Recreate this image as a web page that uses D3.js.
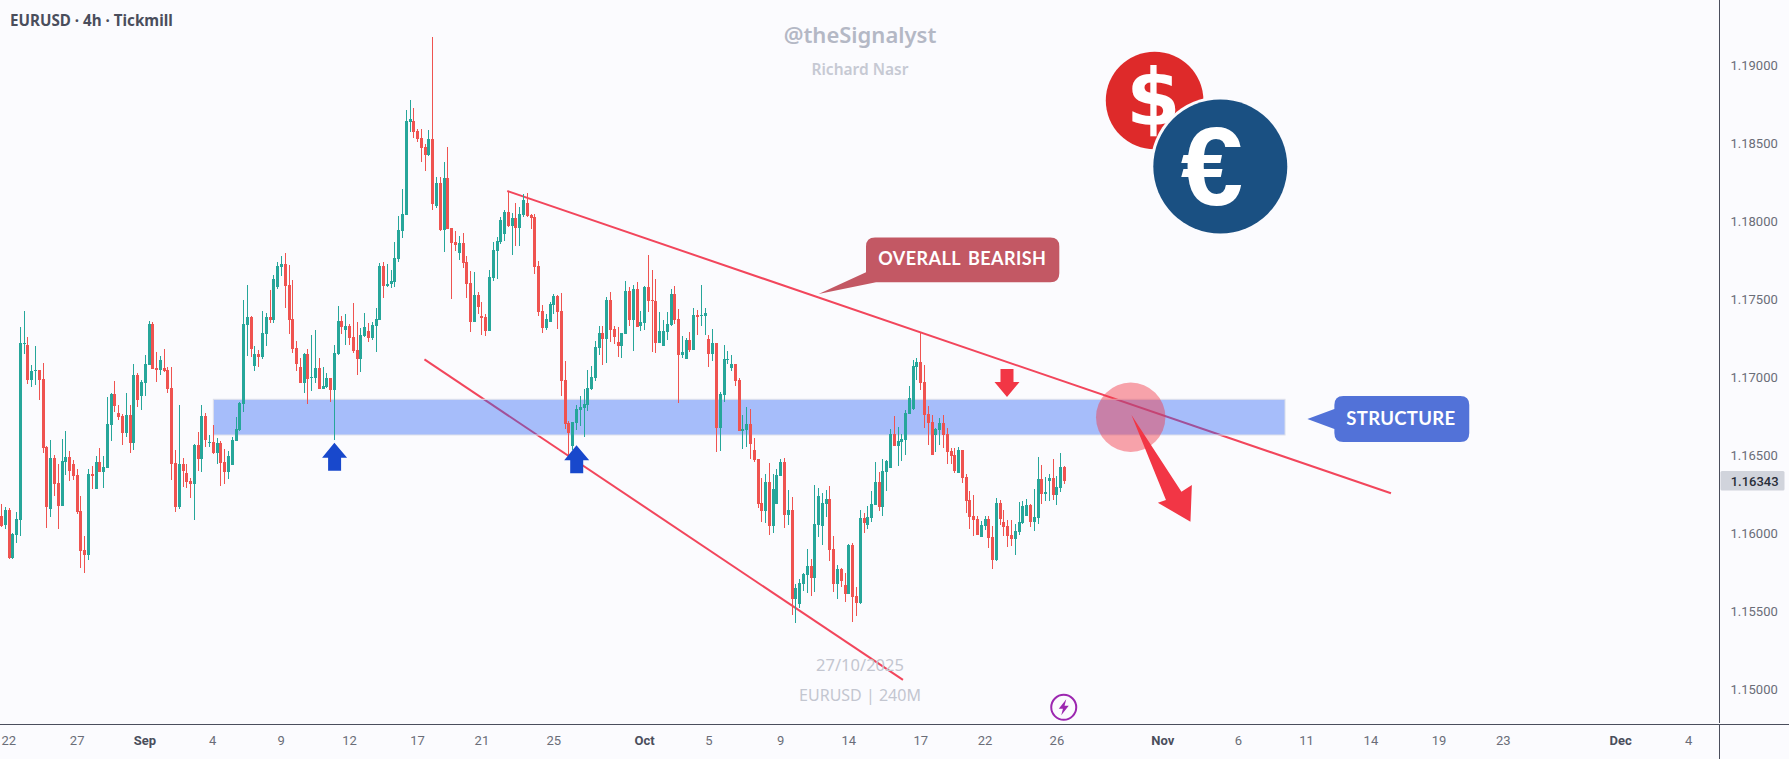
<!DOCTYPE html>
<html><head><meta charset="utf-8"><title>EURUSD 4h</title>
<script src="https://cdn.jsdelivr.net/npm/d3@7/dist/d3.min.js"></script>
<style>html,body{margin:0;padding:0;background:#fbfbfe;overflow:hidden}svg{display:block}</style></head><body>
<div id="chart"></div>
<script>
const opens=[1.16116,1.16058,1.16154,1.15844,1.15994,1.16090,1.17219,1.17212,1.16988,1.17046,
1.17052,1.16994,1.16558,1.16160,1.16488,1.16327,1.16180,1.16462,1.16494,1.16449,
1.16379,1.16148,1.15897,1.15865,1.16385,1.16289,1.16462,1.16398,1.16423,1.16699,
1.16898,1.16776,1.16757,1.16648,1.16763,1.16584,1.17020,1.16885,1.16969,1.17084,
1.17347,1.17065,1.17052,1.17065,1.17052,1.16937,1.16456,1.16173,1.16449,1.16392,
1.16340,1.16321,1.16571,1.16481,1.16757,1.16584,1.16590,1.16520,1.16584,1.16462,
1.16398,1.16443,1.16597,1.16667,1.16834,1.17341,1.17392,1.17078,1.17155,1.17136,
1.17283,1.17392,1.17373,1.17585,1.17713,1.17732,1.17597,1.17379,1.17193,1.17071,
1.16969,1.17155,1.17001,1.17001,1.17065,1.16930,1.16943,1.17001,1.16924,1.17155,
1.17366,1.17309,1.17334,1.17264,1.17180,1.17122,1.17270,1.17302,1.17257,1.17334,
1.17373,1.17719,1.17591,1.17604,1.17617,1.17764,1.17944,1.18046,1.18643,1.18649,
1.18585,1.18540,1.18483,1.18431,1.18534,1.18104,1.18252,1.17950,1.18284,1.17963,
1.17873,1.17803,1.17867,1.17745,1.17610,1.17360,1.17533,1.17399,1.17392,1.17302,
1.17642,1.17816,1.17873,1.17925,1.18066,1.17976,1.18027,1.17963,1.18046,1.18123,
1.18046,1.18034,1.17719,1.17431,1.17322,1.17360,1.17469,1.17527,1.17431,1.16988,
1.16712,1.16565,1.16712,1.16796,1.16809,1.16828,1.16930,1.17001,1.17193,1.17290,
1.17251,1.17501,1.17315,1.17232,1.17206,1.17283,1.17559,1.17373,1.17572,1.17335,
1.17354,1.17585,1.17501,1.17495,1.17226,1.17206,1.17296,1.17341,1.17540,1.17379,
1.17149,1.17123,1.17245,1.17181,1.17405,1.17399,1.17399,1.17251,1.17155,1.17226,
1.16680,1.16892,1.17116,1.17065,1.17091,1.16988,1.16661,1.16667,1.16706,1.16539,
1.16481,1.16199,1.16148,1.16334,1.16051,1.16193,1.16372,1.16462,1.16122,1.16154,
1.15583,1.15551,1.15679,1.15737,1.15795,1.15718,1.16058,1.16051,1.16193,1.16225,
1.15904,1.15679,1.15776,1.15673,1.15615,1.15930,1.15602,1.15558,1.16103,1.16058,
1.16103,1.16186,1.16334,1.16173,1.16398,1.16423,1.16642,1.16565,1.16590,1.16603,
1.16770,1.16802,1.17072,1.17104,1.16975,1.16770,1.16719,1.16635,1.16667,1.16712,
1.16642,1.16533,1.16507,1.16392,1.16539,1.16366,1.16218,1.16116,1.16097,1.15981,
1.16052,1.16097,1.15981,1.15834,1.16199,1.16077,1.16052,1.15994,1.15968,1.16013,
1.16071,1.16116,1.16186,1.16077,1.16103,1.16353,1.16257,1.16340,1.16360,1.16251,
1.16295,1.16430];
const highs=[1.16193,1.16171,1.16165,1.16007,1.16141,1.17328,1.17430,1.17264,1.17084,1.17206,
1.17052,1.17097,1.16565,1.16603,1.16507,1.16449,1.16609,1.16661,1.16532,1.16475,
1.16417,1.16244,1.15987,1.16417,1.16436,1.16500,1.16552,1.16500,1.16879,1.16905,
1.16981,1.16828,1.16770,1.16905,1.16828,1.17091,1.17033,1.16988,1.17148,1.17366,
1.17360,1.17167,1.17142,1.17187,1.17071,1.17071,1.16539,1.16828,1.16486,1.16449,
1.16359,1.16578,1.16655,1.16828,1.16776,1.16635,1.16699,1.16616,1.16597,1.16545,
1.16533,1.16622,1.16751,1.16847,1.17501,1.17597,1.17399,1.17206,1.17180,1.17431,
1.17418,1.17565,1.17662,1.17745,1.17783,1.17803,1.17726,1.17629,1.17238,1.17129,
1.17161,1.17187,1.17277,1.17309,1.17129,1.17071,1.17033,1.17001,1.17213,1.17463,
1.17399,1.17411,1.17347,1.17482,1.17360,1.17319,1.17415,1.17351,1.17362,1.17447,
1.17736,1.17745,1.17732,1.17694,1.17873,1.18040,1.18213,1.18720,1.18784,1.18733,
1.18598,1.18598,1.18502,1.18592,1.19188,1.18290,1.18290,1.18386,1.18483,1.17963,
1.17944,1.17912,1.17931,1.17783,1.17687,1.17681,1.17553,1.17491,1.17409,1.17694,
1.17873,1.17905,1.18034,1.18078,1.18194,1.18059,1.18123,1.18098,1.18181,1.18188,
1.18053,1.18053,1.17751,1.17469,1.17412,1.17488,1.17540,1.17533,1.17546,1.17110,
1.16725,1.16719,1.16828,1.16886,1.16930,1.17052,1.17078,1.17238,1.17335,1.17335,
1.17521,1.17553,1.17335,1.17328,1.17290,1.17623,1.17585,1.17598,1.17617,1.17431,
1.17591,1.17790,1.17694,1.17636,1.17424,1.17373,1.17424,1.17572,1.17591,1.17444,
1.17270,1.17258,1.17296,1.17450,1.17437,1.17598,1.17450,1.17277,1.17315,1.17226,
1.16911,1.17212,1.17174,1.17148,1.17091,1.17001,1.16763,1.16815,1.16802,1.16616,
1.16481,1.16359,1.16385,1.16456,1.16385,1.16417,1.16481,1.16488,1.16282,1.16237,
1.15679,1.15711,1.15750,1.15904,1.15840,1.16314,1.16295,1.16263,1.16282,1.16308,
1.15987,1.15801,1.15782,1.15750,1.15936,1.15942,1.15660,1.16154,1.16135,1.16180,
1.16276,1.16462,1.16398,1.16481,1.16475,1.16674,1.16757,1.16686,1.16642,1.16796,
1.16950,1.17116,1.17129,1.17290,1.17084,1.16821,1.16764,1.16680,1.16744,1.16764,
1.16680,1.16552,1.16552,1.16558,1.16539,1.16385,1.16276,1.16251,1.16116,1.16084,
1.16116,1.16116,1.16052,1.16231,1.16218,1.16154,1.16090,1.16090,1.16065,1.16206,
1.16212,1.16225,1.16193,1.16289,1.16494,1.16443,1.16366,1.16385,1.16481,1.16372,
1.16520,1.16437];
const lows=[1.16045,1.16034,1.15840,1.15840,1.15945,1.15987,1.17155,1.16962,1.16943,1.16956,
1.16860,1.16520,1.16039,1.16109,1.16244,1.16032,1.16180,1.16379,1.16340,1.16346,
1.16128,1.15782,1.15750,1.15833,1.16289,1.16289,1.16398,1.16295,1.16423,1.16597,
1.16783,1.16731,1.16571,1.16622,1.16520,1.16539,1.16815,1.16795,1.16885,1.17084,
1.17058,1.16975,1.17020,1.17039,1.16904,1.16346,1.16141,1.16160,1.16302,1.16295,
1.16231,1.16090,1.16404,1.16398,1.16558,1.16558,1.16513,1.16449,1.16308,1.16321,
1.16353,1.16443,1.16597,1.16661,1.16783,1.17142,1.17136,1.17046,1.17071,1.17123,
1.17206,1.17354,1.17354,1.17572,1.17655,1.17450,1.17283,1.17161,1.17046,1.16969,
1.16905,1.16834,1.16917,1.16969,1.16930,1.16930,1.16937,1.16847,1.16603,1.17148,
1.17283,1.17213,1.17213,1.17161,1.17020,1.17041,1.17266,1.17234,1.17244,1.17167,
1.17373,1.17514,1.17585,1.17578,1.17585,1.17745,1.17899,1.18046,1.18579,1.18540,
1.18515,1.18386,1.18329,1.18425,1.18078,1.18091,1.17944,1.17809,1.17957,1.17508,
1.17816,1.17758,1.17706,1.17514,1.17298,1.17360,1.17411,1.17277,1.17270,1.17302,
1.17623,1.17636,1.17860,1.17880,1.17969,1.17790,1.17848,1.17848,1.18034,1.18034,
1.17957,1.17668,1.17399,1.17290,1.17309,1.17360,1.17412,1.17315,1.16886,1.16674,
1.16475,1.16539,1.16667,1.16693,1.16623,1.16789,1.16924,1.16982,1.17149,1.17084,
1.17097,1.17232,1.17219,1.17136,1.17129,1.17283,1.17335,1.17174,1.17328,1.17302,
1.17309,1.17424,1.17168,1.17161,1.17226,1.17206,1.17245,1.17335,1.17347,1.16841,
1.17129,1.17123,1.17168,1.17181,1.17277,1.17335,1.17277,1.17072,1.17110,1.16526,
1.16535,1.16847,1.17091,1.17046,1.16949,1.16661,1.16545,1.16558,1.16481,1.16462,
1.16167,1.16077,1.16071,1.15994,1.16007,1.16193,1.16372,1.16039,1.16058,1.15481,
1.15429,1.15525,1.15634,1.15622,1.15602,1.15628,1.15981,1.15930,1.16109,1.15827,
1.15628,1.15583,1.15660,1.15564,1.15615,1.15436,1.15474,1.15551,1.16007,1.16032,
1.16077,1.16186,1.16148,1.16116,1.16276,1.16423,1.16565,1.16436,1.16469,1.16507,
1.16770,1.16796,1.16988,1.16924,1.16680,1.16571,1.16507,1.16526,1.16571,1.16552,
1.16449,1.16449,1.16392,1.16392,1.16328,1.16135,1.16032,1.15988,1.15994,1.15981,
1.16026,1.15911,1.15776,1.15827,1.16058,1.15988,1.15917,1.15923,1.15866,1.15994,
1.16065,1.16116,1.16045,1.16020,1.16065,1.16193,1.16212,1.16212,1.16218,1.16186,
1.16270,1.16321];
const closes=[1.16051,1.16154,1.15844,1.16000,1.16096,1.17225,1.17225,1.16988,1.17046,1.17052,
1.16988,1.16552,1.16173,1.16488,1.16321,1.16180,1.16468,1.16494,1.16402,1.16372,
1.16141,1.15891,1.15865,1.16385,1.16372,1.16462,1.16398,1.16430,1.16706,1.16898,
1.16821,1.16751,1.16648,1.16763,1.16584,1.17020,1.16860,1.16975,1.17091,1.17347,
1.17058,1.17052,1.17116,1.17046,1.16930,1.16449,1.16173,1.16449,1.16404,1.16334,
1.16321,1.16571,1.16481,1.16757,1.16603,1.16590,1.16520,1.16584,1.16456,1.16398,
1.16501,1.16603,1.16674,1.16841,1.17347,1.17392,1.17187,1.17155,1.17136,1.17289,
1.17392,1.17373,1.17636,1.17719,1.17732,1.17591,1.17373,1.17187,1.17091,1.16969,
1.17155,1.16994,1.17007,1.17065,1.16930,1.16950,1.17001,1.16924,1.17161,1.17366,
1.17328,1.17334,1.17257,1.17174,1.17123,1.17276,1.17325,1.17257,1.17340,1.17379,
1.17719,1.17591,1.17604,1.17623,1.17771,1.17950,1.18053,1.18649,1.18662,1.18579,
1.18534,1.18476,1.18431,1.18534,1.18117,1.18252,1.17950,1.18284,1.17957,1.17867,
1.17854,1.17867,1.17739,1.17604,1.17360,1.17533,1.17456,1.17386,1.17302,1.17649,
1.17822,1.17880,1.18014,1.18066,1.17976,1.18027,1.17963,1.18053,1.18143,1.18040,
1.18027,1.17713,1.17424,1.17322,1.17379,1.17476,1.17527,1.17424,1.16982,1.16706,
1.16648,1.16719,1.16802,1.16815,1.16834,1.16937,1.17007,1.17200,1.17290,1.17251,
1.17501,1.17309,1.17264,1.17206,1.17290,1.17559,1.17373,1.17572,1.17328,1.17360,
1.17585,1.17495,1.17495,1.17226,1.17302,1.17302,1.17347,1.17540,1.17373,1.17149,
1.17168,1.17245,1.17181,1.17405,1.17392,1.17405,1.17418,1.17155,1.17226,1.16680,
1.16898,1.17123,1.17123,1.17091,1.16981,1.16661,1.16674,1.16706,1.16577,1.16475,
1.16193,1.16148,1.16334,1.16051,1.16289,1.16379,1.16462,1.16122,1.16154,1.15583,
1.15654,1.15686,1.15744,1.15795,1.15718,1.16064,1.16244,1.16199,1.16225,1.15897,
1.15679,1.15776,1.15699,1.15615,1.15930,1.15596,1.15558,1.16103,1.16071,1.16109,
1.16193,1.16334,1.16173,1.16404,1.16468,1.16642,1.16565,1.16597,1.16610,1.16776,
1.16873,1.17078,1.17104,1.16969,1.16764,1.16712,1.16507,1.16674,1.16712,1.16635,
1.16526,1.16501,1.16404,1.16539,1.16360,1.16212,1.16109,1.16090,1.15994,1.16058,
1.16097,1.15975,1.15834,1.16199,1.16097,1.16045,1.15988,1.15968,1.16020,1.16077,
1.16180,1.16186,1.16077,1.16109,1.16353,1.16257,1.16270,1.16360,1.16251,1.16302,
1.16430,1.16343];

const priceTicks=[1.19,1.185,1.18,1.175,1.17,1.165,1.16,1.155,1.15];
const lastPrice=1.16343;
const timeTickBars=[1.9,20,37.9,55.8,73.9,92,110,127,146,170,187,206,224,243,260,279,307,327,345,362,380,397,428,446];
const timeTickLabels=["22","27","Sep","4","9","12","17","21","25","Oct","5","9","14","17","22","26","Nov","6","11","14","19","23","Dec","4"];
const monthLabels=["Sep","Oct","Nov","Dec"];
const upperTrend=[[133.7,1.18200],[367.3,1.16261]];
const lowerTrend=[[111.8,1.17120],[238.3,1.15064]];
const zoneBars=[56,339.3], zonePrices=[1.16864,1.16635];

const W=1789,H=759,UP="#26a69a",DOWN="#ef5350",BG="#fbfbfe",AXIS="#4a4e5c",RED="#f23645",BLUE="#1848cc";
const UI="'Noto Sans','Open Sans',sans-serif";
const x=d3.scaleLinear().domain([0,281]).range([1.5,1064.5]);
const y=d3.scaleLinear().domain([1.15,1.19]).range([689.9,66.3]);
const svg=d3.select("#chart").append("svg").attr("width",W).attr("height",H).style("background",BG);

// trend lines sit underneath the translucent structure band
const line=d3.line().x(d=>x(d[0])).y(d=>y(d[1]));
svg.selectAll("path.trend").data([upperTrend,lowerTrend]).join("path").attr("class","trend")
  .attr("d",line).attr("fill","none").attr("stroke","#f2465c").attr("stroke-width",2);

svg.append("rect").attr("x",x(zoneBars[0])).attr("y",y(zonePrices[0]))
  .attr("width",x(zoneBars[1])-x(zoneBars[0])).attr("height",y(zonePrices[1])-y(zonePrices[0]))
  .attr("fill","rgba(41,98,245,0.4)").attr("stroke","#dfe1ea").attr("stroke-width",1);

// candles
const bars=d3.range(opens.length);
const cx=i=>Math.floor(x(i));
const gC=svg.append("g").attr("shape-rendering","crispEdges");
gC.selectAll("rect.wick").data(bars).join("rect").attr("class","wick")
  .attr("x",i=>cx(i)).attr("width",1)
  .attr("y",i=>Math.round(y(highs[i]))).attr("height",i=>Math.max(1,Math.round(y(lows[i]))-Math.round(y(highs[i]))))
  .attr("fill",i=>closes[i]>=opens[i]?UP:DOWN);
gC.selectAll("rect.body").data(bars).join("rect").attr("class","body")
  .attr("x",i=>cx(i)-1).attr("width",3)
  .attr("y",i=>Math.round(y(Math.max(opens[i],closes[i]))))
  .attr("height",i=>Math.max(1,Math.round(y(Math.min(opens[i],closes[i])))-Math.round(y(Math.max(opens[i],closes[i])))))
  .attr("fill",i=>closes[i]>=opens[i]?UP:DOWN);

// highlight circle and projected drop
const circleAt=[298.5,1.16749];
svg.append("circle").attr("cx",x(circleAt[0])).attr("cy",y(circleAt[1])).attr("r",34.7)
  .attr("fill",RED).attr("fill-opacity",0.45);
function poly(anchor,pts,fill){
  const ax=x(anchor[0]),ay=y(anchor[1]);
  svg.append("polygon").attr("points",pts.map(p=>[ax+p[0],ay+p[1]].join(",")).join(" ")).attr("fill",fill);
}
poly([298.7,1.16763],[[0,0],[50,76.7],[60.4,70],[59,106.7],[26.4,87.7],[34.5,85]],RED);
const arrowUp=[[0,0],[12.7,15],[6.7,15],[6.7,28],[-6.3,28],[-6.3,15],[-12.3,15]];
poly([88,1.16585],arrowUp,BLUE);
poly([152,1.16570],arrowUp,BLUE);
poly([265.8,1.16879],[[-6.5,-28],[6.5,-28],[6.5,-15],[12.5,-15],[0,0],[-12.5,-15],[-6.5,-15]],RED);

// callouts
function callout(tip,d,fill,label,lx,ly,size,ls,ws){
  const tx=x(tip[0]),ty=y(tip[1]);
  svg.append("path").attr("transform",`translate(${tx},${ty})`).attr("d",d).attr("fill",fill);
  svg.append("text").attr("x",tx+lx).attr("y",ty+ly).attr("text-anchor","middle").attr("dominant-baseline","central")
    .attr("fill","#fff").attr("font-family","'Lato','Open Sans',sans-serif").attr("font-weight",700)
    .attr("font-size",size).attr("letter-spacing",ls).attr("word-spacing",ws).text(label);
}
callout([216,1.17539],"M56.4,-56.5H231.7Q240.7,-56.5 240.7,-47.5V-20.7Q240.7,-11.7 231.7,-11.7H57.4L0,0L47.4,-21.7V-47.5Q47.4,-56.5 56.4,-56.5Z","#c35864","OVERALL BEARISH",143.7,-36.5,18,0.4,3);
callout([345.2,1.16738],"M36,-23H152.9Q161.9,-23 161.9,-14V14Q161.9,23 152.9,23H36Q27,23 27,14V10L0,0L27,-10V-14Q27,-23 36,-23Z","#5272d8","STRUCTURE",93.5,-0.5,18.5,0.3,0);

// coins
const coins=svg.append("g");
coins.append("circle").attr("cx",1154.6).attr("cy",100.5).attr("r",48.8).attr("fill","#de2a2a");
coins.append("text").attr("x",1153.5).attr("y",98).attr("text-anchor","middle").attr("dominant-baseline","central")
  .attr("font-family","'DejaVu Sans',sans-serif").attr("font-weight",700).attr("font-size",78).attr("fill","#fff").text("$");
coins.append("circle").attr("cx",1220.3).attr("cy",166.5).attr("r",70).attr("fill",BG);
coins.append("circle").attr("cx",1220.3).attr("cy",166.5).attr("r",67).attr("fill","#1a5082");
coins.append("text").attr("x",1212).attr("y",166).attr("text-anchor","middle").attr("dominant-baseline","central")
  .attr("font-family","'Liberation Sans',sans-serif").attr("font-weight",700).attr("font-size",112).attr("fill","#fff").text("€");

// watermark texts
function label(txt,px,py,size,fill,weight,anchor){
  return svg.append("text").attr("x",px).attr("y",py).attr("text-anchor",anchor||"middle").attr("dominant-baseline","central")
   .attr("font-family",UI).attr("font-size",size).attr("fill",fill).attr("font-weight",weight||400).text(txt);
}
label("@theSignalyst",860,34,22,"#b4b8c5",600);
label("Richard Nasr",860,68.5,15.5,"#c6c9d3",600);
label("27/10/2025",860,664,16.5,"#c3c6d0",400);
label("EURUSD | 240M",860,694.5,16,"#c3c6d0",400);
label("EURUSD · 4h · Tickmill",10,20,15.2,"#4a4e5c",700,"start");

// bolt icon anchored to the last bars
const bx=x(280.8),by=707.3;
svg.append("circle").attr("cx",bx).attr("cy",by).attr("r",12.5).attr("fill","none").attr("stroke","#9c27b0").attr("stroke-width",2);
svg.append("path").attr("transform",`translate(${bx},${by})`).attr("d","M2.5,-8L-5,1.5H-0.8L-2.5,8L5,-1.5H0.8Z").attr("fill","#9c27b0");

// axes
const rightAxis=d3.axisRight(y).tickValues(priceTicks).tickFormat(d3.format(".5f")).tickSize(0).tickPadding(11);
const gy=svg.append("g").attr("transform","translate(1719.5,-0.5)").call(rightAxis);
gy.select(".domain").remove();
gy.selectAll("text").attr("font-family","Roboto,sans-serif").attr("font-size",13).attr("fill","#6a6d78");
const bottomAxis=d3.axisBottom(x).tickValues(timeTickBars).tickFormat((d,i)=>timeTickLabels[i]).tickSize(0).tickPadding(11);
const gx=svg.append("g").attr("transform","translate(-0.5,724.5)").call(bottomAxis);
gx.select(".domain").remove();
gx.selectAll("text").attr("font-family","Roboto,sans-serif").attr("font-size",13)
  .attr("fill",(d,i)=>monthLabels.includes(timeTickLabels[i])?"#4a4e5c":"#6a6d78")
  .attr("font-weight",(d,i)=>monthLabels.includes(timeTickLabels[i])?700:400);
const axes=svg.append("g").attr("stroke",AXIS).attr("stroke-width",1).attr("shape-rendering","crispEdges");
axes.append("line").attr("x1",1719.5).attr("x2",1719.5).attr("y1",0).attr("y2",723);
axes.append("line").attr("x1",1719.5).attr("x2",1719.5).attr("y1",725).attr("y2",H);
axes.append("line").attr("x1",0).attr("x2",W).attr("y1",724.5).attr("y2",724.5);

// last price tag
const ly=y(lastPrice);
svg.append("rect").attr("x",1720.5).attr("y",ly-9.5).attr("width",64).attr("height",19.4).attr("rx",1.5).attr("fill","#d1d4dc");
svg.append("text").attr("x",1730.7).attr("y",ly+0.5).attr("dominant-baseline","central").attr("font-family","Roboto,sans-serif")
  .attr("font-size",13).attr("fill","#2a2e39").attr("font-weight",500).text(d3.format(".5f")(lastPrice));
</script></body></html>
